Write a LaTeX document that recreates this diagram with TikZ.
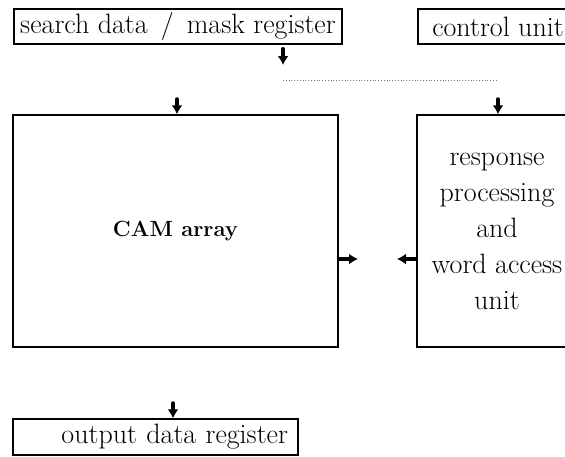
\documentclass[tikz,border=0pt]{standalone}
\usetikzlibrary{arrows.meta}

\begin{document}
\begin{tikzpicture}[x=1pt, y=-1pt,
box/.style={draw, shape=rectangle, line width=1.5pt, align=center, inner sep=0pt, font=\fontsize{28}{36}\selectfont},
stub/.style={line width=3.5pt, line cap=round, -{Latex[length=9pt,width=11pt]}},
link/.style={dotted, line width=0.8pt, black!55}]
%
\useasboundingbox (0,0) rectangle (565,456);
\node[box, minimum width=328pt, minimum height=35pt] (search) at (178,26.5) {search data\ \,/\ \,mask register};
\node[box, minimum width=160pt, minimum height=35pt] (control) at (498,26.5) {control unit};
\node[box, minimum width=325pt, minimum height=232pt] (cam) at (175.5,231) {{\fontsize{22}{26}\selectfont\bfseries CAM array}};
\node[box, minimum width=160pt, minimum height=232pt] (resp) at (497,231) {response\\processing\\and\\word access\\unit};
\node[box, text width=265pt, align=right, inner xsep=10pt, minimum height=36pt] (out) at (155.5,437) {output data register};
%
\coordinate (s1) at (283,65);
\coordinate (d1) at (283,80);
\coordinate (d2) at (498,80);
\coordinate (c1) at (177,99);
\coordinate (r1) at (498,99);
\coordinate (c2) at (358,259);
\coordinate (r2) at (397,259);
\coordinate (o1) at (173,403);
\draw[stub, shorten <=4pt] (search.south -| s1) -- (s1);
\draw[link] (d1) -- (d2);
\draw[stub] (c1) -- (cam.north -| c1);
\draw[stub] (r1) -- (resp.north -| r1);
\draw[stub] (cam.east |- c2) -- (c2);
\draw[stub] (resp.west |- r2) -- (r2);
\draw[stub] (o1) -- (out.north -| o1);
\end{tikzpicture}
\end{document}
